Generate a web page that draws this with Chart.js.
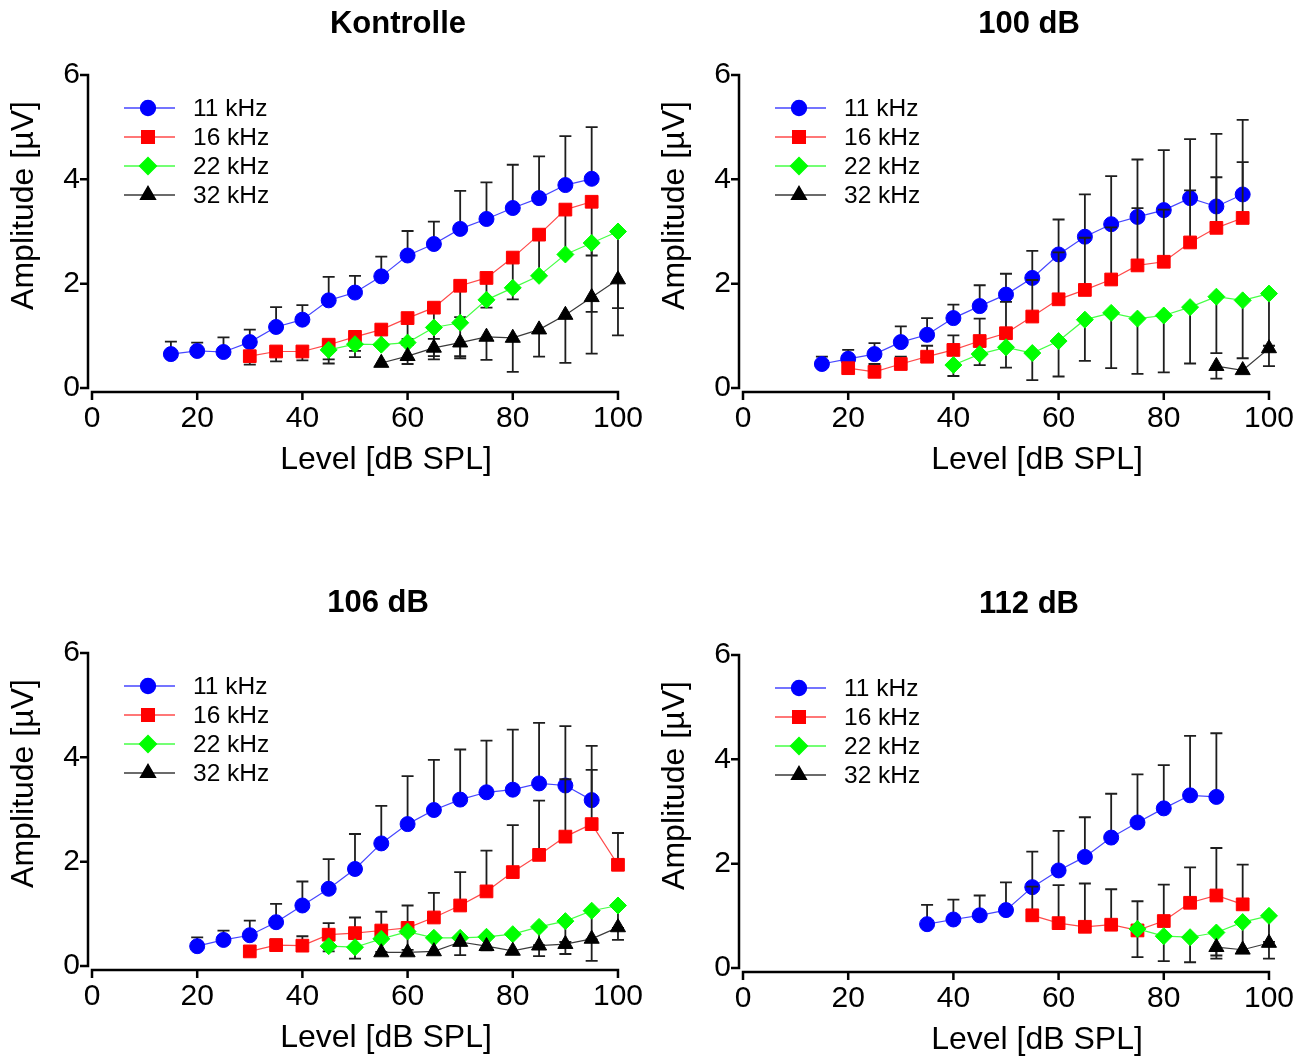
<!DOCTYPE html>
<html><head><meta charset="utf-8">
<script src="https://cdn.jsdelivr.net/npm/chart.js@4.4.0/dist/chart.umd.min.js"></script>
<style>
html,body{margin:0;padding:0;background:#fff;}
body{width:1313px;height:1057px;position:relative;overflow:hidden;}
.panel{position:absolute;width:656px;height:500px;}
canvas{display:block;}
</style></head><body>
<div class="panel" style="left:0;top:0"><canvas id="c0" width="656" height="500"></canvas></div>
<div class="panel" style="left:651px;top:0"><canvas id="c1" width="656" height="500"></canvas></div>
<div class="panel" style="left:0;top:578px"><canvas id="c2" width="656" height="500"></canvas></div>
<div class="panel" style="left:651px;top:580px"><canvas id="c3" width="656" height="500"></canvas></div>
<script>
// ---------- DATA ----------
const seriesLabels = ['11 kHz', '16 kHz', '22 kHz', '32 kHz'];
const panelTitles = ['Kontrolle', '100 dB', '106 dB', '112 dB'];
const xTicks = [0, 20, 40, 60, 80, 100];
const yTicks = [0, 2, 4, 6];

// Kontrolle (error: + above, - below)
const k_lv11 = [15,20,25,30,35,40,45,50,55,60,65,70,75,80,85,90,95];
const k_amp11 = [0.65,0.71,0.69,0.88,1.17,1.31,1.68,1.83,2.14,2.54,2.76,3.05,3.24,3.45,3.64,3.89,4.01];
const k_err11 = [0.24,0.16,0.28,0.24,0.38,0.28,0.45,0.32,0.38,0.47,0.43,0.73,0.70,0.83,0.80,0.94,0.99];
const k_lv16 = [30,35,40,45,50,55,60,65,70,75,80,85,90,95];
const k_amp16 = [0.61,0.70,0.70,0.83,0.98,1.12,1.34,1.54,1.96,2.11,2.50,2.94,3.42,3.57];
const k_err16 = [-0.16,-0.19,-0.17,-0.28,-0.27,-0.32,-0.40,-0.60,-0.60,-0.57,-0.80,-0.79,-0.89,-1.03];
const k_lv22 = [45,50,55,60,65,70,75,80,85,90,95,100];
const k_amp22 = [0.73,0.84,0.83,0.87,1.16,1.25,1.69,1.92,2.15,2.56,2.78,3.00];
const k_err22 = [-0.26,-0.25,0,-0.05,-0.55,-0.64,0,0,0,0,-1.32,-1.47];
const k_lv32 = [55,60,65,70,75,80,85,90,95,100];
const k_amp32 = [0.48,0.61,0.77,0.87,0.98,0.96,1.12,1.40,1.74,2.08];
const k_err32 = [0,-0.15,-0.22,-0.30,-0.44,-0.65,-0.52,-0.92,-1.08,-1.07];

// 100 dB
const a_lv11 = [15,20,25,30,35,40,45,50,55,60,65,70,75,80,85,90,95];
const a_amp11 = [0.46,0.56,0.65,0.88,1.02,1.34,1.57,1.79,2.11,2.56,2.90,3.14,3.28,3.41,3.64,3.48,3.71];
const a_err11 = [0.14,0.17,0.21,0.30,0.32,0.26,0.40,0.40,0.52,0.67,0.81,0.92,1.10,1.15,1.13,1.39,1.43];
const a_lv16 = [20,25,30,35,40,45,50,55,60,65,70,75,80,85,90,95];
const a_amp16 = [0.38,0.31,0.46,0.60,0.73,0.90,1.05,1.37,1.70,1.88,2.08,2.35,2.42,2.79,3.07,3.26];
const a_err16 = [0.10,0.15,0.14,0.21,0.28,0.43,0.60,0.70,0.90,1.00,1.00,1.10,1.00,1.00,0.97,1.07];
const a_lv22 = [40,45,50,55,60,65,70,75,80,85,90,95,100];
const a_amp22 = [0.44,0.65,0.78,0.67,0.90,1.31,1.44,1.33,1.39,1.55,1.75,1.68,1.81];
const a_err22 = [-0.21,-0.21,-0.39,-0.52,-0.68,-0.79,-1.06,-1.06,-1.09,-1.08,-1.08,-1.11,-1.00];
const a_lv32 = [90,95,100];
const a_amp32 = [0.42,0.34,0.76];
const a_err32 = [-0.24,0,-0.34];

// 106 dB
const b_lv11 = [20,25,30,35,40,45,50,55,60,65,70,75,80,85,90,95];
const b_amp11 = [0.38,0.50,0.59,0.84,1.16,1.48,1.86,2.35,2.72,2.99,3.19,3.33,3.38,3.50,3.46,3.18];
const b_err11 = [0.17,0.18,0.28,0.35,0.46,0.57,0.67,0.72,0.92,0.96,0.96,0.99,1.15,1.16,1.14,1.04];
const b_lv16 = [30,35,40,45,50,55,60,65,70,75,80,85,90,95,100];
const b_amp16 = [0.28,0.40,0.39,0.60,0.63,0.68,0.73,0.93,1.16,1.43,1.80,2.13,2.48,2.72,1.94];
const b_err16 = [0.08,0.11,0.18,0.22,0.30,0.36,0.43,0.47,0.64,0.78,0.90,1.04,1.10,1.04,0.61];
const b_lv22 = [45,50,55,60,65,70,75,80,85,90,95,100];
const b_amp22 = [0.38,0.36,0.52,0.66,0.54,0.54,0.56,0.61,0.75,0.86,1.06,1.16];
const b_err22 = [-0.10,-0.22,-0.25,-0.35,0,0,0,0,-0.35,-0.40,-0.55,-0.43];
const b_lv32 = [55,60,65,70,75,80,85,90,95,100];
const b_amp32 = [0.26,0.26,0.28,0.46,0.38,0.29,0.39,0.42,0.52,0.74];
const b_err32 = [0,0,0,-0.25,-0.08,0,-0.20,-0.19,-0.42,-0.24];

// 112 dB
const c_lv11 = [35,40,45,50,55,60,65,70,75,80,85,90];
const c_amp11 = [0.84,0.93,1.01,1.11,1.55,1.87,2.13,2.50,2.79,3.06,3.31,3.28];
const c_err11 = [0.37,0.38,0.38,0.53,0.68,0.76,0.76,0.84,0.92,0.83,1.14,1.22];
const c_lv16 = [55,60,65,70,75,80,85,90,95];
const c_amp16 = [1.01,0.86,0.79,0.83,0.72,0.90,1.25,1.39,1.22];
const c_err16 = [0.55,0.73,0.83,0.68,0.56,0.70,0.68,0.91,0.76];
const c_lv22 = [75,80,85,90,95,100];
const c_amp22 = [0.75,0.61,0.59,0.68,0.88,1.00];
const c_err22 = [-0.54,-0.48,-0.48,-0.44,-0.55,-0.50];
const c_lv32 = [90,95,100];
const c_amp32 = [0.40,0.35,0.48];
const c_err32 = [-0.22,0,-0.30];

// ---------- STYLE ----------
const FONT = '"Liberation Sans", Arial, Helvetica, sans-serif';
const markerFill = ['#0000ff', '#ff0000', '#00ff00', '#000000'];
const lineColor = ['#4646ff', '#ff4a4a', '#46ff46', '#3a3a3a'];
const pointStyles = ['circle', 'rect', 'rectRot', 'triangle'];
const pointRadii = [7.5, 9, 8.5, 8.7];

const panels = [
  {id:'c0', title: panelTitles[0], titleX: 398, titleY: 24,
   lv:[k_lv11,k_lv16,k_lv22,k_lv32], amp:[k_amp11,k_amp16,k_amp22,k_amp32], err:[k_err11,k_err16,k_err22,k_err32]},
  {id:'c1', title: panelTitles[1], titleX: 378, titleY: 24,
   lv:[a_lv11,a_lv16,a_lv22,a_lv32], amp:[a_amp11,a_amp16,a_amp22,a_amp32], err:[a_err11,a_err16,a_err22,a_err32]},
  {id:'c2', title: panelTitles[2], titleX: 378, titleY: 25,
   lv:[b_lv11,b_lv16,b_lv22,b_lv32], amp:[b_amp11,b_amp16,b_amp22,b_amp32], err:[b_err11,b_err16,b_err22,b_err32]},
  {id:'c3', title: panelTitles[3], titleX: 378, titleY: 24,
   lv:[c_lv11,c_lv16,c_lv22,c_lv32], amp:[c_amp11,c_amp16,c_amp22,c_amp32], err:[c_err11,c_err16,c_err22,c_err32]}
];

const decoPlugin = {
  id: 'deco',
  beforeDatasetDraw(chart, args) {
    // error bars of this dataset, drawn just before its line and markers
    const {ctx, scales: {x, y}} = chart;
    const ds = chart.data.datasets[args.index];
    ctx.save();
    ctx.strokeStyle = '#1e1e1e';
    ctx.lineWidth = 1.8;
    ds.data.forEach((p, i) => {
      const e = ds.errors[i];
      if (!e) return;
      const px = x.getPixelForValue(p.x);
      const py = y.getPixelForValue(p.y);
      const pe = y.getPixelForValue(p.y + e);
      ctx.beginPath();
      ctx.moveTo(px, py); ctx.lineTo(px, pe);
      ctx.moveTo(px - 6, pe); ctx.lineTo(px + 6, pe);
      ctx.stroke();
    });
    ctx.restore();
  },
  afterDraw(chart, args, opts) {
    const {ctx, chartArea: a, scales: {x, y}} = chart;
    ctx.save();
    // axes (offset Prism style)
    ctx.strokeStyle = '#000';
    ctx.lineWidth = 2.5;
    ctx.lineCap = 'butt';
    const axX = a.left - 4;
    const axY = a.bottom + 4;
    ctx.beginPath();
    ctx.moveTo(axX, y.getPixelForValue(yTicks[yTicks.length - 1]));
    ctx.lineTo(axX, y.getPixelForValue(yTicks[0]));
    yTicks.forEach(t => { const py = y.getPixelForValue(t); ctx.moveTo(axX + 1.25, py); ctx.lineTo(axX - 8, py); });
    ctx.moveTo(x.getPixelForValue(xTicks[0]), axY);
    ctx.lineTo(x.getPixelForValue(xTicks[xTicks.length - 1]), axY);
    xTicks.forEach(t => { const px = x.getPixelForValue(t); ctx.moveTo(px, axY - 1.25); ctx.lineTo(px, axY + 8); });
    ctx.stroke();

    // legend
    chart.data.datasets.forEach((ds, i) => {
      const ry = a.top + 33 + i * 29;
      ctx.strokeStyle = ds.borderColor;
      ctx.lineWidth = 1.3;
      ctx.beginPath();
      ctx.moveTo(a.left + 32, ry); ctx.lineTo(a.left + 83, ry);
      ctx.stroke();
      ctx.fillStyle = ds.pointBackgroundColor;
      ctx.strokeStyle = ds.pointBorderColor;
      Chart.helpers.drawPoint(ctx, {pointStyle: ds.pointStyle, radius: ds.pointRadius, borderWidth: 1, rotation: 0}, a.left + 56, ry);
      ctx.fillStyle = '#000';
      ctx.font = '24.5px ' + FONT;
      ctx.textAlign = 'left';
      ctx.textBaseline = 'middle';
      ctx.fillText(ds.label, a.left + 101, ry + 1);
    });

    // titles
    ctx.fillStyle = '#000';
    ctx.textAlign = 'center';
    ctx.textBaseline = 'middle';
    ctx.font = 'bold 31px ' + FONT;
    ctx.fillText(opts.title, opts.titleX, opts.titleY);
    ctx.font = '32px ' + FONT;
    ctx.fillText('Level [dB SPL]', (a.left + a.right) / 2 + 31, a.bottom + 72);
    ctx.save();
    ctx.translate(a.left - 68, (a.top + a.bottom) / 2 - 26);
    ctx.rotate(-Math.PI / 2);
    ctx.fillText('Amplitude [µV]', 0, 0);
    ctx.restore();
    ctx.restore();
  }
};

panels.forEach(p => {
  const datasets = seriesLabels.map((lab, i) => ({
    label: lab,
    data: p.lv[i].map((lv, j) => ({x: lv, y: p.amp[i][j]})),
    errors: p.err[i],
    borderColor: lineColor[i],
    backgroundColor: markerFill[i],
    pointBackgroundColor: markerFill[i],
    pointBorderColor: markerFill[i],
    pointBorderWidth: 1,
    pointStyle: pointStyles[i],
    pointRadius: pointRadii[i],
    pointHoverRadius: pointRadii[i],
    borderWidth: 1.2,
    tension: 0,
    clip: false,
    order: 4 - i
  }));
  new Chart(document.getElementById(p.id), {
    type: 'line',
    data: {datasets},
    options: {
      responsive: false,
      animation: false,
      events: [],
      layout: {padding: {top: 75, right: 38, left: 0, bottom: 0}},
      plugins: {
        legend: {display: false},
        tooltip: {enabled: false},
        title: {display: false},
        deco: {title: p.title, titleX: p.titleX, titleY: p.titleY}
      },
      scales: {
        x: {
          type: 'linear', min: 0, max: 100,
          afterFit: s => { s.height = 112; },
          grid: {display: false, drawTicks: false},
          border: {display: false},
          afterBuildTicks: s => { s.ticks = xTicks.map(v => ({value: v})); },
          ticks: {padding: 13, color: '#000', font: {family: FONT, size: 30}, maxRotation: 0, autoSkip: false}
        },
        y: {
          type: 'linear', min: 0, max: 6,
          afterFit: s => { s.width = 92; },
          grid: {display: false, drawTicks: false},
          border: {display: false},
          afterBuildTicks: s => { s.ticks = yTicks.map(v => ({value: v})); },
          ticks: {padding: 12, color: '#000', font: {family: FONT, size: 30}}
        }
      }
    },
    plugins: [decoPlugin]
  });
});
</script>
</body></html>
